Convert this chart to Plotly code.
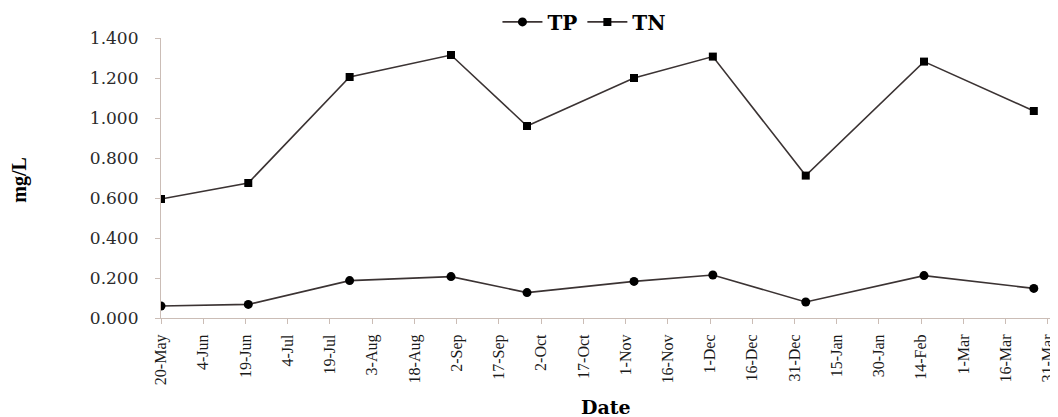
import plotly.graph_objects as go

dates = ["2012-05-20", "2012-06-20", "2012-07-26", "2012-08-31", "2012-09-27",
         "2012-11-04", "2012-12-02", "2013-01-04", "2013-02-15", "2013-03-26"]
tp = [0.060, 0.068, 0.187, 0.207, 0.127, 0.183, 0.215, 0.080, 0.212, 0.148]
tn = [0.595, 0.675, 1.205, 1.315, 0.960, 1.200, 1.307, 0.712, 1.282, 1.035]

line_col = "#3b3333"
axis_col = "#cbbdb6"

fig = go.Figure()
fig.add_trace(go.Scatter(x=dates, y=tp, name="TP", mode="lines+markers",
                         line=dict(color=line_col, width=1.6),
                         marker=dict(symbol="circle", size=9, color="black")))
fig.add_trace(go.Scatter(x=dates, y=tn, name="TN", mode="lines+markers",
                         line=dict(color=line_col, width=1.6),
                         marker=dict(symbol="square", size=8, color="black")))

fig.update_layout(
    width=1050, height=409,
    margin=dict(l=153, r=8, t=30, b=99, autoexpand=False),
    plot_bgcolor="white", paper_bgcolor="white",
    showlegend=True,
    legend=dict(orientation="h", xref="container", yref="container",
                x=0.549, xanchor="center", y=0.966, yanchor="middle",
                font=dict(family="DejaVu Serif", size=20, color="black", weight="bold"),
                itemwidth=40, bgcolor="rgba(0,0,0,0)", tracegroupgap=0),
    xaxis=dict(type="date", range=["2012-05-20", "2013-03-31 18:00"],
               tick0="2012-05-20", dtick=15 * 86400000, tickformat="%-d-%b",
               tickangle=-90, showgrid=False, zeroline=False, automargin=False,
               showline=True, linecolor=axis_col, linewidth=1.2,
               ticks="outside", ticklen=5, tickcolor=axis_col,
               ticklabelstandoff=4, ticklabeloverflow="allow",
               tickfont=dict(family="Liberation Serif", size=16, color="#1a1a1a")),
    yaxis=dict(range=[0, 1.4], dtick=0.2, tickformat=".3f",
               showgrid=False, zeroline=False, automargin=False,
               showline=True, linecolor=axis_col, linewidth=1.2,
               ticks="outside", ticklen=5, tickcolor=axis_col,
               ticklabelstandoff=13,
               tickfont=dict(family="DejaVu Serif", size=17, color="#2a2a2a")),
    annotations=[
        dict(text="<b>mg/L</b>", xref="paper", yref="paper", x=-0.1586, y=0.494,
             xanchor="center", yanchor="middle", textangle=-90, showarrow=False,
             font=dict(family="Liberation Serif", size=20, color="black")),
        dict(text="<b>Date</b>", xref="paper", yref="paper", x=0.5, y=-0.318,
             xanchor="center", yanchor="middle", showarrow=False,
             font=dict(family="DejaVu Serif", size=19, color="black")),
    ],
)

fig.write_html("out.html")
